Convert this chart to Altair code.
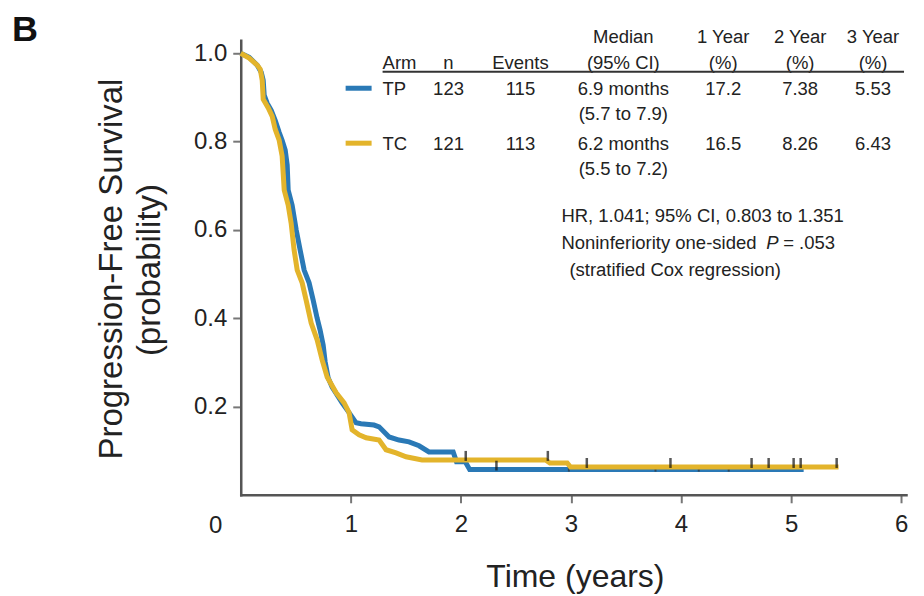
import altair as alt
import pandas as pd

# ---------------- data ----------------
# Kaplan-Meier progression-free survival (time in years, probability)
tp_time = [0, 0.077, 0.150, 0.186, 0.204, 0.213, 0.240, 0.277, 0.313, 0.349,
           0.376, 0.404, 0.422, 0.431, 0.467, 0.504, 0.540, 0.576, 0.621, 0.658,
           0.694, 0.721, 0.749, 0.767, 0.794, 0.830, 0.921, 0.984, 1.048, 1.093,
           1.211, 1.257, 1.348, 1.438, 1.529, 1.620, 1.710, 1.930, 1.960, 2.040,
           2.080, 5.114]
tp_surv = [1.0, 0.991, 0.973, 0.957, 0.939, 0.905, 0.887, 0.871, 0.848, 0.821,
           0.803, 0.781, 0.747, 0.690, 0.656, 0.600, 0.554, 0.509, 0.480, 0.441,
           0.400, 0.373, 0.339, 0.301, 0.265, 0.244, 0.208, 0.186, 0.163, 0.161,
           0.158, 0.154, 0.131, 0.124, 0.120, 0.111, 0.097, 0.097, 0.075, 0.075,
           0.057, 0.057]
tc_time = [0, 0.077, 0.150, 0.177, 0.195, 0.204, 0.250, 0.286, 0.313, 0.349,
           0.376, 0.395, 0.431, 0.458, 0.485, 0.513, 0.558, 0.594, 0.640, 0.694,
           0.740, 0.785, 0.867, 0.939, 0.984, 1.012, 1.075, 1.139, 1.257, 1.320,
           1.411, 1.502, 1.647, 2.770, 2.809, 2.966, 2.996, 5.431]
tc_surv = [1.0, 0.989, 0.973, 0.964, 0.939, 0.896, 0.876, 0.857, 0.828, 0.803,
           0.767, 0.690, 0.656, 0.615, 0.554, 0.509, 0.480, 0.441, 0.389, 0.351,
           0.305, 0.267, 0.231, 0.208, 0.186, 0.147, 0.136, 0.129, 0.124, 0.102,
           0.095, 0.086, 0.079, 0.079, 0.072, 0.072, 0.063, 0.063]

# censoring marks
tc_cens_time = [2.044, 2.790, 3.144, 3.904, 4.641, 4.796, 5.023, 5.087, 5.414]
tc_cens_surv = [0.079, 0.079, 0.063, 0.063, 0.063, 0.063, 0.063, 0.063, 0.063]
tp_cens_time = [2.323]
tp_cens_surv = [0.057]
dot_time = [2.981, 3.768, 3.768, 4.161, 4.161, 4.433, 4.433]
dot_surv = [0.057, 0.063, 0.057, 0.063, 0.057, 0.063, 0.057]

x_ticks = [1, 2, 3, 4, 5, 6]
y_ticks = [0.2, 0.4, 0.6, 0.8, 1.0]

# summary table
arms = ["TP", "TC"]
n_pat = ["123", "121"]
events = ["115", "113"]
medians = ["6.9 months", "6.2 months"]
median_ci = ["(5.7 to 7.9)", "(5.5 to 7.2)"]
yr1 = ["17.2", "16.5"]
yr2 = ["7.38", "8.26"]
yr3 = ["5.53", "6.43"]
hr_lines = ["HR, 1.041; 95% CI, 0.803 to 1.351", "Noninferiority one-sided", "P", "= .053",
            "(stratified Cox regression)"]

# ---------------- styling ----------------
BLUE = "#2a79b6"
GOLD = "#e3b42b"
REG = "Liberation Sans, Arial, Helvetica, sans-serif"
TS = 18.5  # table / annotation font size
W, H = 666, 455
XMAX = 6.044
YMAX = 1.0294
L, T = 241, 40  # page position of plot origin (top-left)

curve_df = pd.concat([
    pd.DataFrame({"t": tp_time, "s": tp_surv, "arm": "TP"}),
    pd.DataFrame({"t": tc_time, "s": tc_surv, "arm": "TC"}),
])

xenc = alt.X("t:Q", scale=alt.Scale(domain=[0, XMAX], nice=False, zero=False),
             axis=alt.Axis(values=x_ticks, format="d", title=None, grid=False,
                           tickSize=8, tickWidth=2, tickColor="#777",
                           domainColor="#555", domainWidth=2.5,
                           labelFont=REG, labelFontSize=24, labelColor="#222",
                           labelPadding=10))
yenc = alt.Y("s:Q", scale=alt.Scale(domain=[0, YMAX], nice=False, zero=False),
             axis=alt.Axis(values=y_ticks, format=".1f", title=None, grid=False,
                           tickSize=8, tickWidth=2, tickColor="#777",
                           domainColor="#555", domainWidth=2.5,
                           labelFont=REG, labelFontSize=24, labelColor="#222",
                           labelPadding=6))

blue_line = alt.Chart(curve_df).transform_filter(alt.datum.arm == "TP").mark_line(
    color=BLUE, strokeWidth=5, strokeJoin="miter").encode(x=xenc, y=yenc)
gold_line = alt.Chart(curve_df).transform_filter(alt.datum.arm == "TC").mark_line(
    color=GOLD, strokeWidth=5, strokeJoin="miter").encode(x=xenc, y=yenc)

cens_df = pd.concat([
    pd.DataFrame({"t": tc_cens_time, "s": tc_cens_surv}),
    pd.DataFrame({"t": tp_cens_time, "s": tp_cens_surv}),
])
cens = alt.Chart(cens_df).mark_tick(orient="vertical", size=10, thickness=2.5,
                                     color="#111", yOffset=-4).encode(x=xenc, y=yenc)
dots = alt.Chart(pd.DataFrame({"t": dot_time, "s": dot_surv})).mark_tick(
    orient="vertical", size=4, thickness=2, color="#333").encode(x=xenc, y=yenc)

dummy = pd.DataFrame({"a": [0]})


def txt(s, px, py, size=TS, align="center", font=REG, style="normal",
        weight="normal", angle=0, color="#222"):
    return alt.Chart(dummy).mark_text(
        text=s, fontSize=size, align=align, baseline="alphabetic", font=font,
        fontStyle=style, fontWeight=weight, angle=angle, color=color
    ).encode(x=alt.value(px - L), y=alt.value(py - T))


def hline(x0, x1, py, color, width):
    return alt.Chart(dummy).mark_rule(color=color, strokeWidth=width).encode(
        x=alt.value(x0 - L), x2=alt.value(x1 - L), y=alt.value(py - T))


texts = []
# panel letter
texts.append(txt("B", 12, 41, size=36, align="left", weight="bold", color="#111"))
# axis titles
texts.append(txt("Progression-Free Survival", 122, 269, size=33, angle=270))
texts.append(txt("(probability)", 160, 270, size=33, angle=270))
texts.append(txt("Time (years)", 576, 587, size=32))
texts.append(txt("0", 216, 533, size=24))

# table header
COLS = {"arm": 383, "n": 449, "ev": 521, "med": 624, "y1": 724, "y2": 801, "y3": 874}
texts.append(txt("Median", COLS["med"], 43))
texts.append(txt("1 Year", COLS["y1"], 43))
texts.append(txt("2 Year", COLS["y2"], 43))
texts.append(txt("3 Year", COLS["y3"], 43))
texts.append(txt("Arm", COLS["arm"], 69, align="left"))
texts.append(txt("n", COLS["n"], 69))
texts.append(txt("Events", COLS["ev"], 69))
texts.append(txt("(95% CI)", COLS["med"], 69))
for c in ("y1", "y2", "y3"):
    texts.append(txt("(%)", COLS[c], 69))
texts.append(hline(383, 905, 71.5, "#333", 2))

row_base = [95, 150]
ci_base = [120, 175]
colors = [BLUE, GOLD]
for i in range(2):
    texts.append(hline(346, 372, row_base[i] - 7, colors[i], 5))
    texts.append(txt(arms[i], COLS["arm"], row_base[i], align="left"))
    texts.append(txt(n_pat[i], COLS["n"], row_base[i]))
    texts.append(txt(events[i], COLS["ev"], row_base[i]))
    texts.append(txt(medians[i], COLS["med"], row_base[i]))
    texts.append(txt(median_ci[i], COLS["med"], ci_base[i]))
    texts.append(txt(yr1[i], COLS["y1"], row_base[i]))
    texts.append(txt(yr2[i], COLS["y2"], row_base[i]))
    texts.append(txt(yr3[i], COLS["y3"], row_base[i]))

# hazard ratio annotation
texts.append(txt(hr_lines[0], 562, 222, align="left"))
texts.append(txt(hr_lines[1], 562, 249, align="left"))
texts.append(txt(hr_lines[2], 767, 249, align="left", style="italic"))
texts.append(txt(hr_lines[3], 784, 249, align="left"))
texts.append(txt(hr_lines[4], 570, 276, align="left"))

chart = alt.layer(blue_line, dots, gold_line, cens, *texts).properties(
    width=W, height=H,
    autosize=alt.AutoSizeParams(type="none"),
    padding={"left": L - 8, "top": T - 8, "right": 10, "bottom": 101},
).configure_view(stroke=None).configure_axis(domainCap="square")

chart.save("out.html", embed_options={"renderer": "svg", "actions": False})
